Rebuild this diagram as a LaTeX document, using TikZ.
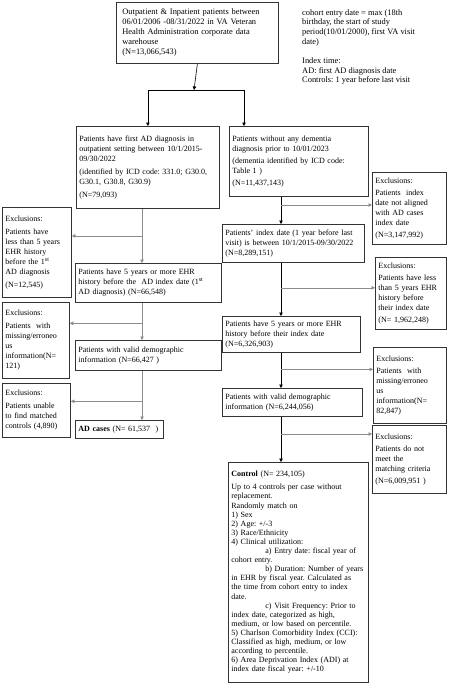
\documentclass[tikz,border=0pt]{standalone}
\usepackage{fontspec}
\setmainfont{Liberation Serif}
\usetikzlibrary{arrows.meta,calc,positioning}

\tikzset{
  box/.style={draw=black!80, line width=0.8pt, anchor=north west, align=left,
    inner xsep=3pt, inner ysep=3pt, font=\fontsize{8}{10}\selectfont\frenchspacing},
  size/.code 2 args={\pgfmathsetmacro\boxtw{#1-6}%
    \edef\boxtmp{\noexpand\pgfkeysalso{minimum width=#1pt, minimum height=#2pt, text width=\boxtw pt}}\boxtmp},
  flow/.style={draw=black, line width=0.6pt},
  link/.style={draw=black!45, line width=0.6pt},
}

\begin{document}
\begin{tikzpicture}[x=1pt,y=-1pt,>={Triangle[length=3.5pt,width=3.5pt]}]
  \useasboundingbox (0,0) rectangle (448,685);

  % source population and notes
  \node[box, size={156}{61}, inner xsep=6pt, font=\fontsize{8.4}{10}\selectfont\frenchspacing] (top) at (116,2)
    {Outpatient \& Inpatient patients between\\ 06/01/2006 -08/31/2022 in VA Veteran\\
     Health Administration corporate data\\ warehouse\\ (N=13,066,543)};
  \node[anchor=north west, align=left, inner sep=0pt, font=\fontsize{8.4}{9.8}\selectfont\frenchspacing] (notes) at (302,9)
    {cohort entry date = max (18th\\ birthday, the start of study\\ period(10/01/2000), first VA visit\\ date)\\[9pt]
     Index time:\\ AD: first AD diagnosis date\\ Controls: 1 year before last visit};

  % AD cases column
  \node[box, size={143}{82}] (ad) at (76,126)
    {Patients have first AD diagnosis in\\ outpatient setting between 10/1/2015-\\ 09/30/2022\\[3pt]
     (identified by ICD code: 331.0; G30.0,\\ G30.1, G30.8, G30.9)\\[3pt] (N=79,093)};
  \node[box, size={146}{39}] (ehrL) at (75,263)
    {Patients have 5 years or more EHR\\ history before the~ AD index date (1\textsuperscript{st}\\ AD diagnosis) (N=66,548)};
  \node[box, size={146}{30}] (demL) at (75,340)
    {Patients with valid demographic\\ information (N=66,427 )};
  \node[box, size={88}{18}] (adc) at (75,420) {\textbf{AD cases} (N= 61,537~ )};

  \node[box, size={69}{90}] (exL1) at (2,207)
    {Exclusions:\\[3pt] Patients have\\ less than 5 years\\ EHR history\\ before the 1\textsuperscript{st}\\ AD diagnosis\\[3pt] (N=12,545)};
  \node[box, size={67}{76}] (exL2) at (2,302)
    {Exclusions:\\[3pt] Patients~ with\\ missing/erroneo\\ us\\ information(N=\\ 121)};
  \node[box, size={68}{54}] (exL3) at (2,383)
    {Exclusions:\\[3pt] Patients unable\\ to find matched\\ controls (4,890)};

  % controls column
  \node[box, size={139}{70}] (nodem) at (229,126)
    {Patients without any dementia\\ diagnosis prior to 10/01/2023\\[2pt]
     (dementia identified by ICD code:\\ Table 1 )\\[2pt] (N=11,437,143)};
  \node[box, size={142}{38}] (idx) at (222,224)
    {Patients' index date (1 year before last\\ visit) is between 10/1/2015-09/30/2022\\ (N=8,289,151)};
  \node[box, size={138}{36}] (ehrR) at (222,316)
    {Patients have 5 years or more EHR\\ history before their index date\\ (N=6,326,903)};
  \node[box, size={140}{28}] (demR) at (222,388)
    {Patients with valid demographic\\ information (N=6,244,056)};
  \node[box, size={140}{220}, font=\fontsize{8}{9.1}\selectfont\frenchspacing] (ctrl) at (228,462)
    {\textbf{Control} (N= 234,105)\\[4pt]
     Up to 4 controls per case without\\ replacement.\\ Randomly match on\\ 1) Sex\\ 2) Age: +/-3\\
     3) Race/Ethnicity\\ 4) Clinical utilization:\\
     \hspace*{34pt}a) Entry date: fiscal year of\\ cohort entry.\\
     \hspace*{34pt}b) Duration: Number of years\\ in EHR by fiscal year. Calculated as\\
     the time from cohort entry to index\\ date.\\
     \hspace*{34pt}c) Visit Frequency: Prior to\\ index date, categorized as high,\\
     medium, or low based on percentile.\\ 5) Charlson Comorbidity Index (CCI):\\
     Classified as high, medium, or low\\ according to percentile.\\
     6) Area Deprivation Index (ADI) at\\ index date fiscal year: +/-10};

  \node[box, size={74}{72}] (exR1) at (372,172)
    {Exclusions:\\[2pt] Patients~ index\\ date not aligned\\ with AD cases\\ index date\\[2pt] (N=3,147,992)};
  \node[box, size={71}{72}] (exR2) at (375,257)
    {Exclusions:\\[2pt] Patients have less\\ than 5 years EHR\\ history before\\ their index date\\[2pt] (N= 1,962,248)};
  \node[box, size={73}{76}] (exR3) at (373,347)
    {Exclusions:\\[2pt] Patients~ with\\ missing/erroneo\\ us\\ information(N=\\ 82,847)};
  \node[box, size={74}{68}] (exR4) at (372,425)
    {Exclusions:\\[2pt] Patients do not\\ meet the\\ matching criteria\\[2pt] (N=6,009,951 )};

  % split into cases and controls
  \coordinate (fork) at (194,90);
  \coordinate (forkR) at (244,90);
  \draw[flow,->] (top.south) -- (fork);
  \draw[flow] (fork -| ad.north) -- (forkR);
  \draw[flow,->] (fork -| ad.north) -- (ad.north);
  \draw[flow,->] (forkR) -- (forkR |- nodem.north);

  % steps with exclusions
  \coordinate (lx) at (142,0);
  \coordinate (rx) at (281,0);
  \foreach \u/\d/\e/\f in {ad/ehrL/exL1/0.5, ehrL/demL/exL2/0.55, demL/adc/exL3/0.62} {
    \draw[link,->] (\u.south -| lx) -- (\d.north -| lx);
    \coordinate (br) at ($(\u.south -| lx)!\f!(\d.north -| lx)$);
    \draw[link,->] (br) -- (br -| \e.east);
  }
  \foreach \u/\d/\e/\f in {nodem/idx/exR1/0.3, idx/ehrR/exR2/0.47, ehrR/demR/exR3/0.47, demR/ctrl/exR4/0.38} {
    \draw[flow,->] (\u.south -| rx) -- (\d.north -| rx);
    \coordinate (br) at ($(\u.south -| rx)!\f!(\d.north -| rx)$);
    \draw[link,->] (br) -- (br -| \e.west);
  }
\end{tikzpicture}
\end{document}
